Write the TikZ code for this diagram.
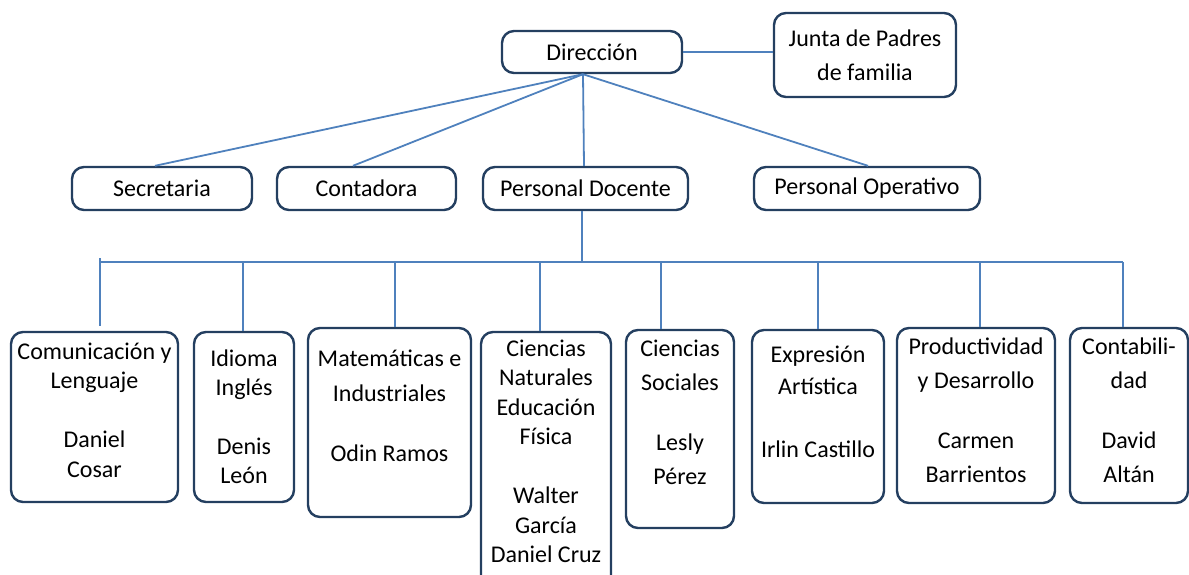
\documentclass[tikz,border=0pt]{standalone}
\usepackage{fontspec}
\setmainfont{Carlito}
\definecolor{conn}{HTML}{4F81BD}
\definecolor{bord}{HTML}{243F60}
\begin{document}
\begin{tikzpicture}[x=1pt,y=-1pt,
  box/.style={draw=bord, line width=2.4pt, rounded corners=12pt, inner sep=0pt, fill=white, align=center, font=\fontsize{24}{34}\selectfont},
  txt/.style={align=center, inner sep=0pt, anchor=base},
  link/.style={draw=conn, line width=1.8pt}]
\useasboundingbox (0,0) rectangle (1189,574);
% top
\node[box, minimum width=180pt, minimum height=42pt] (dir) at (592,52) {Dirección};
\node[box, minimum width=182pt, minimum height=84pt] (junta) at (865,55) {Junta de Padres\\de familia};
\node[box, minimum width=180pt, minimum height=43pt] (sec) at (162,188.5) {Secretaria};
\node[box, minimum width=179pt, minimum height=43pt] (cont) at (366.5,188.5) {Contadora};
\node[box, minimum width=205pt, minimum height=43pt] (doc) at (585.5,188.5) {Personal Docente};
\node[box, minimum width=226pt, minimum height=43pt] (oper) at (867,188.5) {Personal Operativo};
% bottom boxes
\node[box, minimum width=167pt, minimum height=170pt] (com) at (94.5,417) {};
\node[box, minimum width=100pt, minimum height=170pt] (idi) at (244,417) {};
\node[box, minimum width=163pt, minimum height=189pt] (mat) at (389.5,422.5) {};
\node[box, minimum width=130pt, minimum height=256pt] (cn) at (546,460) {};
\node[box, minimum width=108pt, minimum height=198pt] (cs) at (680,429) {};
\node[box, minimum width=132pt, minimum height=173pt] (exp) at (818,416.5) {};
\node[box, minimum width=158pt, minimum height=175pt] (prod) at (976,415.5) {};
\node[box, minimum width=118pt, minimum height=175pt] (conta) at (1129,415.5) {};
% texts (anchor base = baseline of the last line)
\node[txt, font=\fontsize{24}{29.5}\selectfont] (com-t) at (94.5,477) {Comunicación y\\Lenguaje\\[29.5pt]Daniel\\Cosar};
\node[txt, font=\fontsize{24}{29}\selectfont] (idi-t) at (244,483) {Idioma\\Inglés\\[30pt]Denis\\León};
\node[txt, font=\fontsize{24}{35}\selectfont] (mat-t) at (389.5,461) {Matemáticas e\\Industriales\\[25pt]Odin Ramos};
\node[txt, font=\fontsize{24}{29.5}\selectfont] (cn-t) at (546,562.5) {Ciencias\\Naturales\\Educación\\Física\\[29.5pt]Walter\\García\\Daniel Cruz};
\node[txt, font=\fontsize{24}{34}\selectfont] (cs-t) at (680,484) {Ciencias\\Sociales\\[26pt]Lesly\\Pérez};
\node[txt, font=\fontsize{24}{32}\selectfont] (exp-t) at (818,457) {Expresión\\Artística\\[31pt]Irlin Castillo};
\node[txt, font=\fontsize{24}{34}\selectfont] (prod-t) at (976,482) {Productividad\\y Desarrollo\\[26pt]Carmen\\Barrientos};
\node[txt, font=\fontsize{24}{34}\selectfont] (conta-t) at (1129,482) {Contabili-\\dad\\[26pt]David\\Altán};
% connectors top
\coordinate (dirb) at ([xshift=-9pt]dir.south);
\draw[link] (dir.east) -- (dir.east -| junta.west);
\draw[link] (dirb) -- ([xshift=-7pt]sec.north);
\draw[link] (dirb) -- ([xshift=-13.5pt]cont.north);
\draw[link] (dirb) -- ([xshift=-1.5pt]doc.north);
\draw[link] (dirb) -- ([xshift=1pt]oper.north);
% bus
\coordinate (bd) at (582,262);
\coordinate (b1) at (100,262);
\coordinate (b2) at (243,262);
\coordinate (b3) at (395,262);
\coordinate (b4) at (540,262);
\coordinate (b5) at (661,262);
\coordinate (b6) at (818,262);
\coordinate (b7) at (980,262);
\coordinate (b8) at (1123,262);
\draw[link] ([xshift=-3.5pt]doc.south) -- (bd);
\draw[link] (b1) -- (b8);
\draw[link] ([yshift=4pt]b1) -- ([yshift=5pt]b1 |- com.north);
\draw[link] (b2) -- (b2 |- idi.north);
\draw[link] (b3) -- (b3 |- mat.north);
\draw[link] (b4) -- (b4 |- cn.north);
\draw[link] (b5) -- (b5 |- cs.north);
\draw[link] (b6) -- (b6 |- exp.north);
\draw[link] (b7) -- (b7 |- prod.north);
\draw[link] (b8) -- (b8 |- conta.north);
\end{tikzpicture}
\end{document}
